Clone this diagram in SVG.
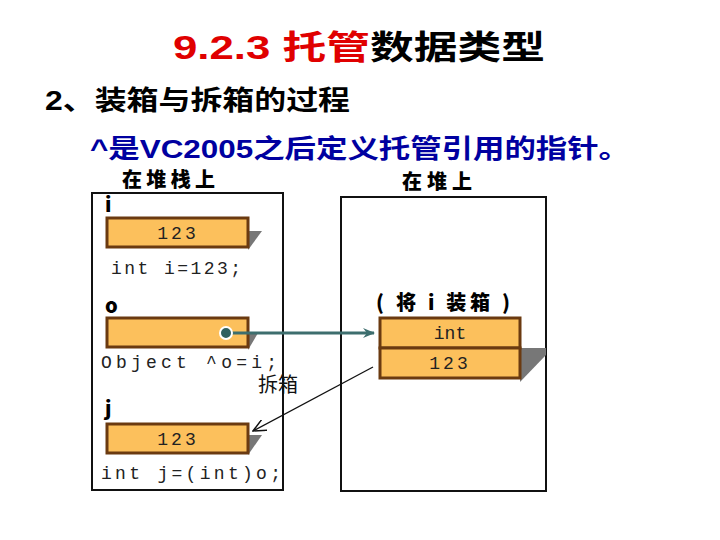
<svg xmlns="http://www.w3.org/2000/svg" width="720" height="540" viewBox="0 0 720 540">
<style>
.t{font-family:"Liberation Sans","Noto Sans CJK SC",sans-serif;font-weight:bold}
.m{font-family:"Liberation Mono","DejaVu Sans Mono",monospace;font-size:18px;fill:#222}
.cj{font-family:"Noto Sans CJK SC",sans-serif;font-weight:900;font-size:20px}
.cell{fill:#fcc05c;stroke:#6b3a10;stroke-width:3}
.sh{fill:#777}
.frame{fill:#fff;stroke:#111;stroke-width:2}
</style>
<defs>
<marker id="a1" markerWidth="12" markerHeight="10" refX="11" refY="5" orient="auto" markerUnits="userSpaceOnUse"><path d="M0,0 L12,5 L0,10 L4,5 Z" fill="#3d6e6e"/></marker>
<marker id="a2" markerWidth="14" markerHeight="12" refX="13" refY="6" orient="auto" markerUnits="userSpaceOnUse"><path d="M0,0 L13,6 L0,12" fill="none" stroke="#111" stroke-width="1.5"/></marker>
</defs>
<text class="t" x="173" y="59" font-size="33" textLength="372" lengthAdjust="spacingAndGlyphs"><tspan fill="#e00000">9.2.3 托管</tspan><tspan fill="#000">数据类型</tspan></text>
<text class="t" x="45" y="110" font-size="27" fill="#000" textLength="305" lengthAdjust="spacingAndGlyphs">2、装箱与拆箱的过程</text>
<text class="t" x="90" y="158" font-size="26" fill="#0000a0" textLength="540" lengthAdjust="spacingAndGlyphs">^是VC2005之后定义托管引用的指针。</text>
<text class="cj" x="122" y="187" font-size="19" textLength="93">在堆栈上</text>
<text class="cj" x="402" y="189" textLength="70">在堆上</text>
<g id="stack">
<rect class="frame" x="92" y="193" width="191" height="297"/>
<text class="cj" x="105" y="212">i</text>
<text class="cj" x="105" y="313">o</text>
<text class="cj" x="105" y="416">j</text>
</g>
<g id="heap"><rect class="frame" x="341" y="197" width="205" height="294"/></g>
<g id="nodeI">
<polygon class="sh" points="248,231 262,231 248,250"/>
<rect class="cell" x="107" y="218" width="141" height="29"/>
<text class="m" x="178" y="239" text-anchor="middle" letter-spacing="3">123</text>
<text class="m" x="111" y="274" textLength="130">int i=123;</text>
</g>
<g id="nodeO">
<polygon class="sh" points="248,333 258,333 248,350"/>
<rect class="cell" x="107" y="318" width="141" height="29"/>
<text class="m" x="101" y="368" textLength="176">Object ^o=i;</text>
</g>
<g id="nodeJ">
<polygon class="sh" points="248,435 262,435 248,455"/>
<rect class="cell" x="107" y="424" width="141" height="29"/>
<text class="m" x="178" y="445" text-anchor="middle" letter-spacing="3">123</text>
<text class="m" x="101" y="479" textLength="180">int j=(int)o;</text>
</g>
<g id="boxed">
<text class="cj" x="376" y="310" textLength="134">( 将 i 装箱 )</text>
<polygon class="sh" points="520,348 546,348 546,355 520,382"/>
<rect class="cell" x="380" y="318" width="140" height="30"/>
<rect class="cell" x="380" y="348" width="140" height="30"/>
<text class="m" x="450" y="339" text-anchor="middle" fill="#444">int</text>
<text class="m" x="450" y="369" text-anchor="middle" letter-spacing="3">123</text>
</g>
<g id="connectors">
<line x1="373" y1="367" x2="253" y2="431" stroke="#111" stroke-width="1.3" marker-end="url(#a2)"/>
<line x1="226" y1="333" x2="374" y2="333" stroke="#3d6e6e" stroke-width="3" marker-end="url(#a1)"/>
<circle cx="226" cy="333" r="6" fill="#2e6060" stroke="#fff" stroke-width="2"/>
<text x="258" y="392" font-family="Noto Sans CJK SC,sans-serif" font-size="20" fill="#111">拆箱</text>
</g>
</svg>
